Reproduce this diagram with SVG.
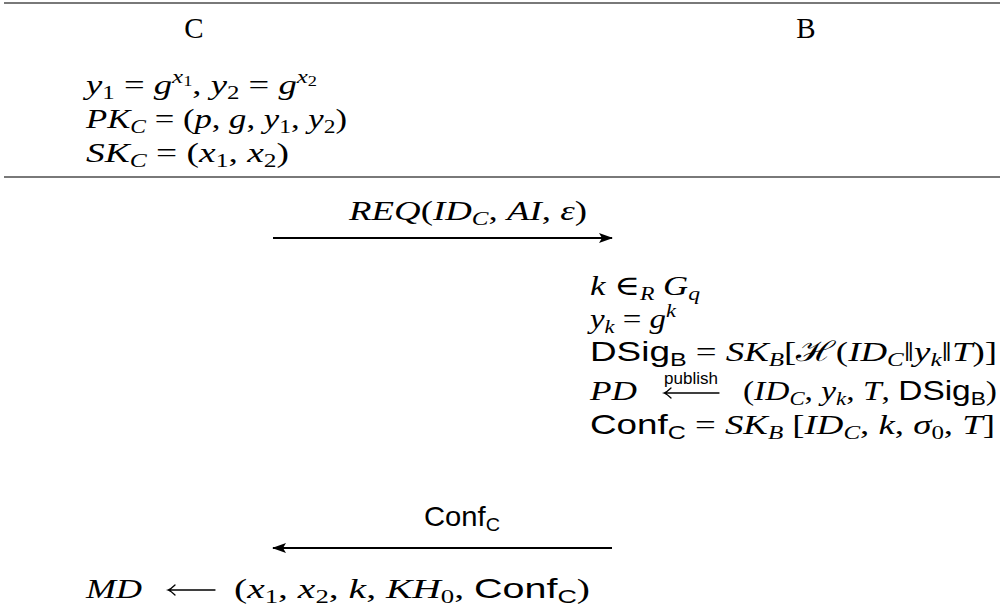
<svg xmlns="http://www.w3.org/2000/svg" width="1004" height="613" viewBox="0 0 1004 613">
<style>
.m{font-family:"Liberation Serif","DejaVu Serif",serif;font-size:28px;fill:#000}
.i{font-style:italic}
.sf{font-family:"Liberation Sans","DejaVu Sans",sans-serif;font-style:normal}
.sub{font-size:19px;baseline-shift:-5px}
.sup{font-size:19px;baseline-shift:11px}
.sup .sub{font-size:14px;baseline-shift:-3px}
.cal{font-family:"DejaVu Serif",serif;font-style:normal}
.lbl{font-family:"Liberation Sans","DejaVu Sans",sans-serif;font-size:17px;fill:#000}
.rule{stroke:#4d4d4d;stroke-width:1.6}
.arr{stroke:#000;stroke-width:2;fill:none}
.larr{stroke:#000;stroke-width:1.3;fill:none;stroke-linecap:round}
</style>
<defs>
<marker id="ah" viewBox="0 0 14 10" refX="13" refY="5" markerWidth="14" markerHeight="10" orient="auto" markerUnits="userSpaceOnUse"><path d="M0,0 L14,5 L0,10 L3,5 z" fill="#000"/></marker>
</defs>
<g id="table-rules">
<line class="rule" x1="4" y1="3" x2="1000" y2="3"/>
<line class="rule" x1="4" y1="177" x2="1000" y2="177"/>
</g>
<g id="party-C">
<text class="m" x="194" y="38" text-anchor="middle" style="font-size:29px">C</text>
</g>
<g id="party-B">
<text class="m" x="806" y="38" text-anchor="middle" style="font-size:29px">B</text>
</g>
<g id="client-setup">
<text class="m" x="86" y="94" textLength="231" lengthAdjust="spacingAndGlyphs"><tspan class="i">y</tspan><tspan class="sub">1</tspan> = <tspan class="i">g</tspan><tspan class="sup"><tspan class="i">x</tspan><tspan class="sub">1</tspan></tspan>, <tspan class="i">y</tspan><tspan class="sub">2</tspan> = <tspan class="i">g</tspan><tspan class="sup"><tspan class="i">x</tspan><tspan class="sub">2</tspan></tspan></text>
<text class="m" x="86" y="128" textLength="261" lengthAdjust="spacingAndGlyphs"><tspan class="i">PK</tspan><tspan class="sub i">C</tspan> = (<tspan class="i">p</tspan>, <tspan class="i">g</tspan>, <tspan class="i">y</tspan><tspan class="sub">1</tspan>, <tspan class="i">y</tspan><tspan class="sub">2</tspan>)</text>
<text class="m" x="86" y="162" textLength="203" lengthAdjust="spacingAndGlyphs"><tspan class="i">SK</tspan><tspan class="sub i">C</tspan> = (<tspan class="i">x</tspan><tspan class="sub">1</tspan>, <tspan class="i">x</tspan><tspan class="sub">2</tspan>)</text>
</g>
<g id="bank-processing">
<text class="m" x="590" y="295" textLength="110" lengthAdjust="spacingAndGlyphs"><tspan class="i">k</tspan> ∈<tspan class="sub i">R</tspan> <tspan class="i">G</tspan><tspan class="sub i">q</tspan></text>
<text class="m" x="590" y="328" textLength="86" lengthAdjust="spacingAndGlyphs"><tspan class="i">y</tspan><tspan class="sub i">k</tspan> = <tspan class="i">g</tspan><tspan class="sup i">k</tspan></text>
<text class="m" x="590" y="361" textLength="407" lengthAdjust="spacingAndGlyphs"><tspan class="sf">DSig</tspan><tspan class="sf sub">B</tspan> = <tspan class="i">SK</tspan><tspan class="sub i">B</tspan>[<tspan class="cal">ℋ</tspan>(<tspan class="i">ID</tspan><tspan class="sub i">C</tspan>‖<tspan class="i">y</tspan><tspan class="sub i">k</tspan>‖<tspan class="i">T</tspan>)]</text>
<text class="m" x="590" y="400" textLength="47" lengthAdjust="spacingAndGlyphs"><tspan class="i">PD</tspan></text>
<text class="lbl" x="691" y="384" text-anchor="middle">publish</text>
<path class="larr" d="M719,393 H664 M671,388 Q667,392 664,393 Q667,394 671,398"/>
<text class="m" x="743" y="400" textLength="254" lengthAdjust="spacingAndGlyphs">(<tspan class="i">ID</tspan><tspan class="sub i">C</tspan>, <tspan class="i">y</tspan><tspan class="sub i">k</tspan>, <tspan class="i">T</tspan>, <tspan class="sf">DSig</tspan><tspan class="sf sub">B</tspan>)</text>
<text class="m" x="590" y="434" textLength="405" lengthAdjust="spacingAndGlyphs"><tspan class="sf">Conf</tspan><tspan class="sf sub">C</tspan> = <tspan class="i">SK</tspan><tspan class="sub i">B</tspan> [<tspan class="i">ID</tspan><tspan class="sub i">C</tspan>, <tspan class="i">k</tspan>, <tspan class="i">σ</tspan><tspan class="sub">0</tspan>, <tspan class="i">T</tspan>]</text>
</g>
<g id="client-store">
<text class="m" x="86" y="598" textLength="56" lengthAdjust="spacingAndGlyphs"><tspan class="i">MD</tspan></text>
<path class="larr" d="M215,590 H168 M175,585 Q171,589 168,590 Q171,591 175,595"/>
<text class="m" x="234" y="598" textLength="356" lengthAdjust="spacingAndGlyphs">(<tspan class="i">x</tspan><tspan class="sub">1</tspan>, <tspan class="i">x</tspan><tspan class="sub">2</tspan>, <tspan class="i">k</tspan>, <tspan class="i">KH</tspan><tspan class="sub">0</tspan>, <tspan class="sf">Conf</tspan><tspan class="sf sub">C</tspan>)</text>
</g>
<g id="connectors">
<g id="msg-req">
<line class="arr" x1="273" y1="238" x2="612" y2="238" marker-end="url(#ah)"/>
<text class="m" x="349" y="220" textLength="238" lengthAdjust="spacingAndGlyphs"><tspan class="i">REQ</tspan>(<tspan class="i">ID</tspan><tspan class="sub i">C</tspan>, <tspan class="i">AI</tspan>, <tspan class="i">ε</tspan>)</text>
</g>
<g id="msg-conf">
<line class="arr" x1="612" y1="548" x2="273" y2="548" marker-end="url(#ah)"/>
<text class="m" x="462" y="526" text-anchor="middle" textLength="76" lengthAdjust="spacingAndGlyphs"><tspan class="sf">Conf</tspan><tspan class="sf sub">C</tspan></text>
</g>
</g>
</svg>
